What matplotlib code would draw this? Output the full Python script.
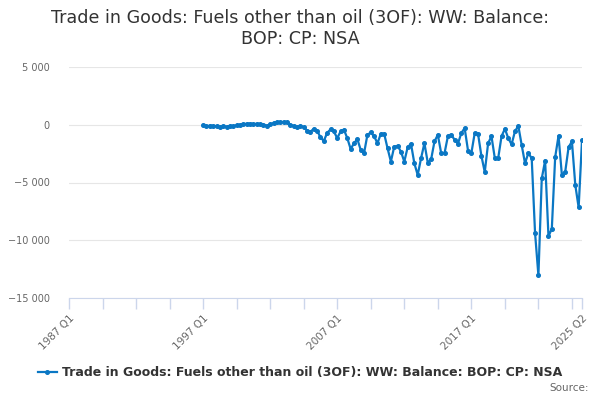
import matplotlib
matplotlib.use('Agg')
import matplotlib.pyplot as plt

# quarterly balance, 1997 Q1 .. 2025 Q2 (GBP million)
values = [
    -50, -150, -80, -100, -150, -200, -130, -170, -100, -120,      # 1997 Q1 - 1999 Q2
    -50, 0, 50, 80, 100, 50, 80, 50, 0, -80,                       # 1999 Q3 - 2001 Q4
    30, 150, 250, 200, 250, 220, 0, -100, -200, -100,              # 2002 Q1 - 2004 Q2
    -200, -500, -600, -350, -500, -1100, -1400, -700, -400, -580,  # 2004 Q3 - 2006 Q4
    -1160, -580, -435, -1160, -2100, -1600, -1250, -2170, -2460, -870,  # 2007 Q1 - 2009 Q2
    -670, -1000, -1600, -780, -780, -2030, -3190, -1890, -1830, -2320,  # 2009 Q3 - 2011 Q4
    -3190, -1950, -1650, -3340, -4350, -2900, -1600, -3280, -3000, -1450,  # 2012 Q1 - 2014 Q2
    -870, -2460, -2460, -1000, -870, -1300, -1650, -725, -290, -2230,   # 2014 Q3 - 2016 Q4
    -2460, -730, -800, -2700, -4100, -1600, -1000, -2900, -2900, -1000,  # 2017 Q1 - 2019 Q2
    -350, -1160, -1700, -580, -90, -1740, -3335, -2460, -2900, -9370,    # 2019 Q3 - 2021 Q4
    -13050, -4650, -3100, -9660, -9000, -2800, -960, -4350, -4060, -1940,  # 2022 Q1 - 2024 Q2
    -1450, -5220, -7160, -1360,                                    # 2024 Q3 - 2025 Q2
]

# x axis counted in quarters from 1987 Q1
axis_start_year = 1987
first_year = 1997
xs = [(first_year - axis_start_year) * 4 + i for i in range(len(values))]
last_q = xs[-1]
tick_pos = [0, 40, 80, 120, last_q]
tick_labels = ['1987 Q1', '1997 Q1', '2007 Q1', '2017 Q1', '2025 Q2']
minor_pos = list(range(0, last_q, 10)) + [last_q]

yticks = [5000, 0, -5000, -10000, -15000]
ylabels = ['{:,}'.format(v).replace(',', ' ').replace('-', '−') for v in yticks]

title = 'Trade in Goods: Fuels other than oil (3OF): WW: Balance:\nBOP: CP: NSA'
series_name = 'Trade in Goods: Fuels other than oil (3OF): WW: Balance: BOP: CP: NSA'

blue = '#0a77c4'

fig = plt.figure(figsize=(6, 4), dpi=100)
ax = fig.add_axes([0.115, 0.255, 0.855, 0.5775])

ax.plot(xs, values, color=blue, lw=1.6, marker='o', ms=2.6, label=series_name)

ax.set_xlim(0, last_q)
ax.set_ylim(-15000, 5000)
ax.set_yticks(yticks)
ax.set_yticklabels(ylabels, fontsize=7, color='#666666')
ax.set_xticks(minor_pos, minor=True)
ax.set_xticks(tick_pos)
ax.set_xticklabels(tick_labels, rotation=45, ha='right', rotation_mode='anchor',
                   fontsize=7.5, color='#666666')
ax.tick_params(axis='y', length=0, pad=14)
ax.tick_params(axis='x', which='both', length=8, color='#ccd6eb', width=1, pad=3)

ax.grid(axis='y', color='#e6e6e6', lw=0.8)
ax.set_axisbelow(True)
for s in ['left', 'right', 'top']:
    ax.spines[s].set_visible(False)
ax.spines['bottom'].set_color('#ccd6eb')

fig.suptitle(title, fontsize=12.6, color='#333333', y=0.978, linespacing=1.2)

leg = fig.legend(loc='center', bbox_to_anchor=(0.5, 0.068), frameon=False,
                 prop={'size': 9, 'weight': 'bold'}, handlelength=1.5,
                 handletextpad=0.4, labelcolor='#333333')

fig.text(0.982, 0.022, 'Source:', ha='right', fontsize=7.5, color='#666666')

fig.savefig('out.png', dpi=100)
